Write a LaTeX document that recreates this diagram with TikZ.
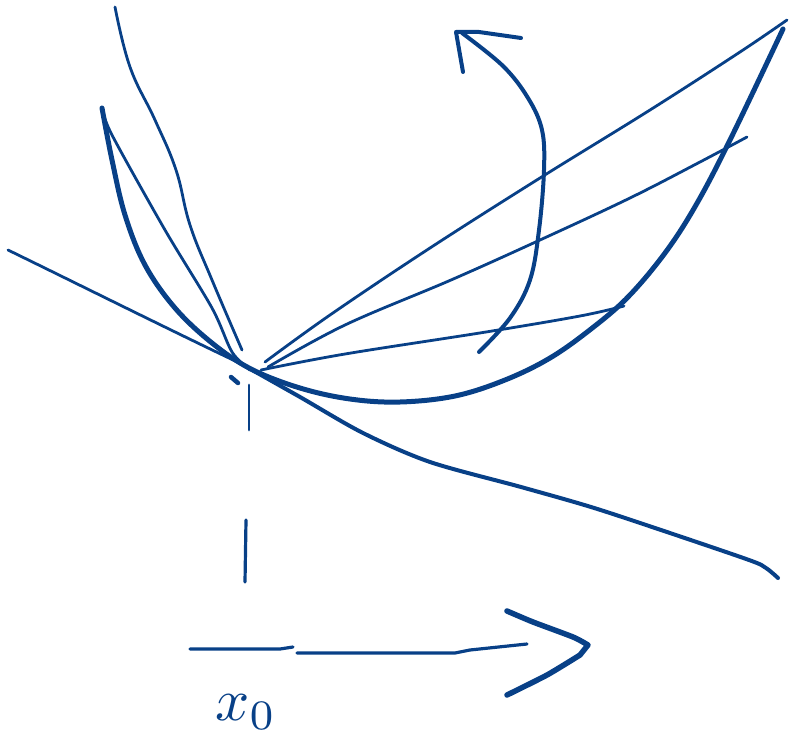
\documentclass[tikz,border=0pt]{standalone}
\definecolor{ink}{RGB}{8,64,135}
\begin{document}
\begin{tikzpicture}[x=1pt,y=-1pt,
  pen/.style={draw=ink,line cap=round,line join=round},
  thick pen/.style={pen,line width=5pt},
  mid pen/.style={pen,line width=4pt},
  thin pen/.style={pen,line width=2.8pt}]
\useasboundingbox (0,0) rectangle (789,749);
% parabola
\draw[thick pen] plot[smooth,tension=0.6] coordinates {(102,108) (112,160) (125,215) (145,265) (175,308) (212,343) (251,369) (300,388) (350,399) (400,402) (455,396) (505,380) (550,358) (591,329) (628,297) (665,253) (696,205) (730,140) (783,29)};
% tangent line
\draw[thin pen] (8,250) .. controls (90,290) and (180,335) .. (250,368);
\draw[mid pen] plot[smooth,tension=0.5] coordinates {(245,366) (300,397) (363,433) (430,462) (521,487) (591,507) (661,530) (749,560) (766,568) (778,578)};
% left secants
\draw[thin pen] plot[smooth,tension=0.7] coordinates {(115,7) (130,67) (155,120) (176,170) (190,225) (212,280) (242,350)};
\draw[thin pen] plot[smooth,tension=0.5] coordinates {(102,108) (112,135) (165,230) (212,308) (232,352) (250,370)};
% right secants
\draw[thin pen] plot[smooth,tension=0.6] coordinates {(265,362) (330,315) (430,248) (540,178) (650,110) (740,52) (787,20)};
\draw[thin pen] plot[smooth,tension=0.6] coordinates {(268,367) (345,325) (451,280) (540,240) (630,198) (700,162) (747,137)};
\draw[thin pen] plot[smooth,tension=0.6] coordinates {(261,370) (345,354) (486,332) (580,316) (624,306)};
% curved arrow
\draw[mid pen] plot[smooth,tension=0.6] coordinates {(479,352) (510,318) (530,280) (539,230) (544,170) (542,130) (528,98) (503,66) (462,33)};
\draw[mid pen] (521,38) -- (479,32) -- (456,32) -- (463,72);
% marks at x0
\draw[pen,line width=4.5pt] (231,377) -- (238,383);
\draw[thin pen] (249,385) -- (249,430);
\draw[pen,line width=3.2pt] (246,520) -- (245,582);
% axis
\draw[pen,line width=3.2pt] (190,649) -- (280,649) -- (293,647);
\draw[pen,line width=3.2pt] (297,653) -- (455,653) -- (470,650) -- (527,644);
\draw[pen,line width=5.5pt] plot[smooth,tension=0.4] coordinates {(507,611) (533,622) (573,637) (588,645)} -- plot[smooth,tension=0.4] coordinates {(580,655) (547,675) (507,695)};
% label
\node[text=ink,scale=6] (lab) at (246,712) {$x_0$};
\end{tikzpicture}
\end{document}
